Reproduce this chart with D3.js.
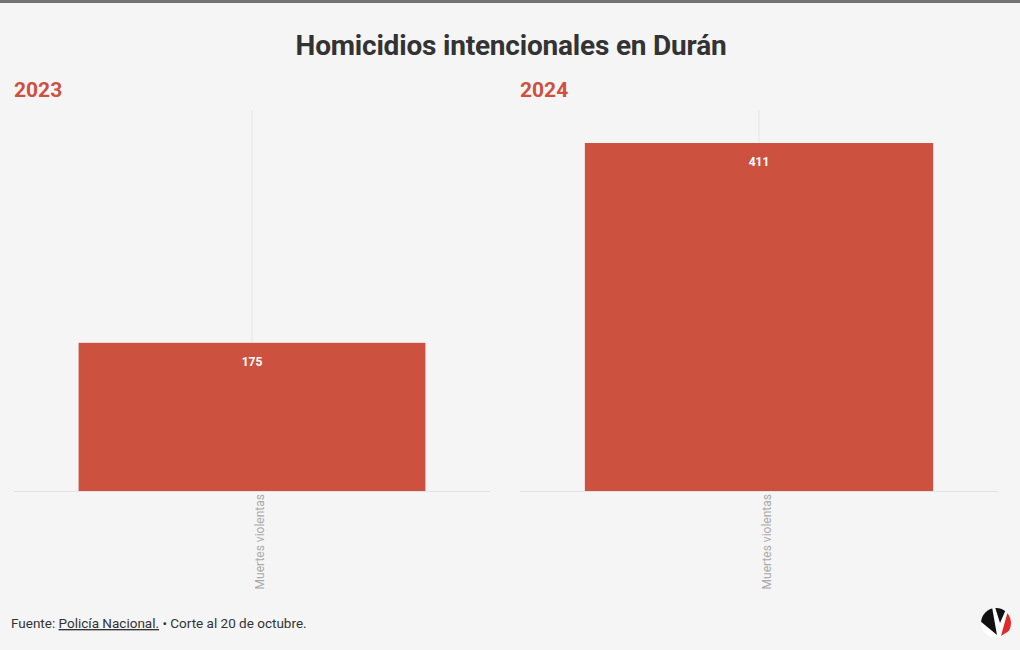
<!DOCTYPE html>
<html>
<head>
<meta charset="utf-8">
<script src="https://cdn.jsdelivr.net/npm/d3@7"></script>
<style>
  body { margin: 0; background: #f5f5f5; }
  svg text { font-family: Roboto, "Noto Sans", sans-serif; }
</style>
</head>
<body>
<div id="vis"></div>
<script>
const FRAME_WIDTH = 1020;
const FRAME_HEIGHT = 650;

// data
const years = ["2023", "2024"];
const categories = ["Muertes violentas"];
const values2023 = [175];
const values2024 = [411];
const yDomain = [0, 450];

const panels = [
  {year: years[0], values: values2023, left: 14, right: 490},
  {year: years[1], values: values2024, left: 520, right: 998}
];

const BASE_Y = 491;
const TOP_Y = 110;
const RED = "#cc523f";

const FRAME = d3.select("#vis")
  .append("svg")
    .attr("width", FRAME_WIDTH)
    .attr("height", FRAME_HEIGHT);

FRAME.append("rect")
  .attr("width", FRAME_WIDTH).attr("height", FRAME_HEIGHT)
  .attr("fill", "#f5f5f5");

// top strip
FRAME.append("rect")
  .attr("width", FRAME_WIDTH).attr("height", 3)
  .attr("fill", "#737373");

FRAME.append("text")
  .attr("x", 511).attr("y", 55)
  .attr("text-anchor", "middle")
  .attr("font-size", "28px").attr("font-weight", 700)
  .attr("fill", "#333")
  .style("letter-spacing", "-0.2px")
  .text("Homicidios intencionales en Durán");

const Y_SCALE = d3.scaleLinear().domain(yDomain).range([BASE_Y, TOP_Y]);

panels.forEach((p) => {
  const g = FRAME.append("g");
  const X_SCALE = d3.scaleBand()
    .domain(categories)
    .range([p.left, p.right])
    .padding(0.157);

  g.append("text")
    .attr("x", p.left).attr("y", 97)
    .attr("font-size", "21px").attr("font-weight", 700)
    .attr("fill", RED)
    .text(p.year);

  // gridline at category centre
  g.selectAll(".grid")
    .data(categories)
    .enter().append("line")
      .attr("x1", (d) => X_SCALE(d) + X_SCALE.bandwidth() / 2)
      .attr("x2", (d) => X_SCALE(d) + X_SCALE.bandwidth() / 2)
      .attr("y1", TOP_Y).attr("y2", BASE_Y)
      .attr("stroke", "#e6e6e6").attr("stroke-width", 1);

  g.append("line")
    .attr("x1", p.left).attr("x2", p.right)
    .attr("y1", BASE_Y + 0.5).attr("y2", BASE_Y + 0.5)
    .attr("stroke", "#e3e3e3").attr("stroke-width", 1);

  g.selectAll(".bar")
    .data(p.values)
    .enter().append("rect")
      .attr("x", (d, i) => X_SCALE(categories[i]))
      .attr("width", X_SCALE.bandwidth())
      .attr("y", (d) => Y_SCALE(d))
      .attr("height", (d) => BASE_Y - Y_SCALE(d))
      .attr("fill", RED);

  g.selectAll(".val")
    .data(p.values)
    .enter().append("text")
      .attr("x", (d, i) => X_SCALE(categories[i]) + X_SCALE.bandwidth() / 2)
      .attr("y", (d) => Y_SCALE(d) + 23)
      .attr("text-anchor", "middle")
      .attr("font-size", "12px").attr("font-weight", 700)
      .attr("fill", "#fff")
      .text((d) => d);

  g.selectAll(".cat")
    .data(categories)
    .enter().append("text")
      .attr("transform", (d) => "translate(" + (X_SCALE(d) + X_SCALE.bandwidth() / 2 + 12) + "," + (BASE_Y + 3) + ") rotate(-90)")
      .attr("text-anchor", "end")
      .attr("font-size", "12px")
      .attr("fill", "#aaa")
      .text((d) => d);
});

// footer
const foot = FRAME.append("text")
  .attr("x", 11).attr("y", 628)
  .attr("font-size", "13.5px").attr("fill", "#333");
foot.append("tspan").text("Fuente: ");
foot.append("tspan").attr("text-decoration", "underline").text("Policía Nacional.");
foot.append("tspan").text(" • Corte al 20 de octubre.");

// logo
const logo = FRAME.append("g").attr("transform", "translate(996,623)");
logo.append("clipPath").attr("id", "lc")
  .append("circle").attr("r", 15);
const lg = logo.append("g").attr("clip-path", "url(#lc)");
lg.append("rect").attr("x", -16).attr("y", -16).attr("width", 32).attr("height", 32).attr("fill", "#fff");
lg.append("path").attr("d", "M-16,-16 L-4,-16 L1,12 L-16,-2 Z").attr("fill", "#111");
lg.append("path").attr("d", "M-1,-16 L11,-16 L4,0 Z").attr("fill", "#111");
lg.append("path").attr("d", "M13,-16 L16,-16 L16,6 L5,13 Z").attr("fill", "#e02b2b");
</script>
</body>
</html>
